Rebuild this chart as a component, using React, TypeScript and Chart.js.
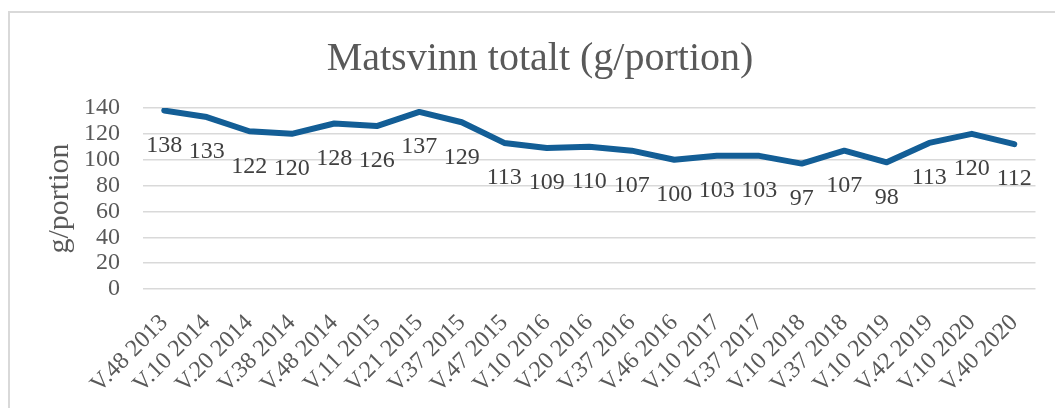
import React, { useEffect, useRef } from "react";
import { Chart, registerables } from "chart.js";

Chart.register(...registerables);

const chartTitle = "Matsvinn totalt (g/portion)";
const yAxisTitle = "g/portion";
const categories = [
  "V.48 2013", "V.10 2014", "V.20 2014", "V.38 2014", "V.48 2014", "V.11 2015",
  "V.21 2015", "V.37 2015", "V.47 2015", "V.10 2016", "V.20 2016", "V.37 2016",
  "V.46 2016", "V.10 2017", "V.37 2017", "V.10 2018", "V.37 2018", "V.10 2019",
  "V.42 2019", "V.10 2020", "V.40 2020",
];
const values = [138, 133, 122, 120, 128, 126, 137, 129, 113, 109, 110, 107, 100, 103, 103, 97, 107, 98, 113, 120, 112];
const yMin = 0;
const yMax = 140;
const yStep = 20;

const FONT = '"Liberation Serif", serif';

const dataLabelPlugin = {
  id: "dataLabelsBelow",
  afterDatasetsDraw(chart: any) {
    const ctx = chart.ctx;
    const meta = chart.getDatasetMeta(0);
    ctx.save();
    ctx.font = `24px ${FONT}`;
    ctx.fillStyle = "#404040";
    ctx.textAlign = "center";
    ctx.textBaseline = "middle";
    meta.data.forEach((pt: any, i: number) => {
      ctx.fillText(String(values[i]), pt.x, pt.y + 35);
    });
    ctx.restore();
  },
};

const titlePlugin = {
  id: "boxTitle",
  afterDraw(chart: any) {
    const ctx = chart.ctx;
    ctx.save();
    ctx.font = `40px ${FONT}`;
    ctx.fillStyle = "#595959";
    ctx.textAlign = "center";
    ctx.textBaseline = "alphabetic";
    ctx.fillText(chartTitle, 540, 70);
    ctx.restore();
  },
};

export default function App() {
  const ref = useRef<HTMLCanvasElement>(null);
  useEffect(() => {
    if (!ref.current) return;
    const chart = new Chart(ref.current, {
      type: "line",
      data: {
        labels: categories,
        datasets: [
          {
            data: values,
            borderColor: "#135E96",
            borderWidth: 6,
            pointRadius: 0,
            borderJoinStyle: "round",
            borderCapStyle: "round",
            tension: 0,
            fill: false,
          },
        ],
      },
      options: {
        animation: false,
        responsive: false,
        devicePixelRatio: 1,
        layout: { padding: { left: 0, right: 16, top: 108, bottom: 0 } },
        plugins: {
          legend: { display: false },
          tooltip: { enabled: false },
          title: { display: false },
        },
        scales: {
          x: {
            offset: true,
            grid: { display: false, drawTicks: false },
            border: { display: false },
            ticks: {
              autoSkip: false,
              maxRotation: 45,
              minRotation: 45,
              padding: 20,
              color: "#595959",
              font: { family: FONT, size: 24 },
            },
            afterFit: (s: any) => {
              s.height = 119;
            },
          },
          y: {
            min: yMin,
            max: yMax,
            grid: { color: "#d9d9d9", lineWidth: 1.5, drawTicks: false },
            border: { display: false },
            ticks: {
              stepSize: yStep,
              autoSkip: false,
              padding: 23,
              color: "#595959",
              font: { family: FONT, size: 24 },
            },
            title: {
              display: true,
              text: yAxisTitle,
              color: "#595959",
              font: { family: FONT, size: 30, lineHeight: 1.2 },
              padding: { top: 42, bottom: 0 },
            },
            afterFit: (s: any) => {
              s.width = 143;
            },
          },
        },
      },
      plugins: [dataLabelPlugin, titlePlugin],
    } as any);
    return () => chart.destroy();
  }, []);

  return (
    <>
      <div
        style={{
          position: "fixed",
          left: 8,
          top: 11,
          right: 0,
          bottom: 0,
          borderTop: "2px solid #d9d9d9",
          borderLeft: "2px solid #d9d9d9",
          boxSizing: "border-box",
        }}
      />
      <canvas
        ref={ref}
        width={1055}
        height={408}
        style={{ position: "fixed", left: 0, top: 0, width: 1055, height: 408 }}
      />
    </>
  );
}
